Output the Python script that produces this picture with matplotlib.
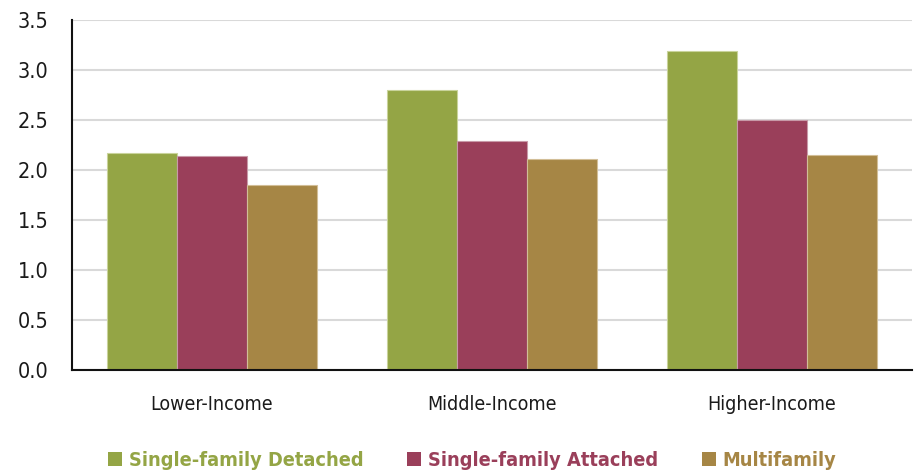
import matplotlib
matplotlib.use("Agg")
import matplotlib.pyplot as plt
import numpy as np
from matplotlib.patches import Patch

plt.rcParams["font.family"] = ["Liberation Sans Narrow", "DejaVu Sans"]
plt.rcParams["font.stretch"] = "condensed"

categories = ["Lower-Income", "Middle-Income", "Higher-Income"]
series_names = ["Single-family Detached", "Single-family Attached", "Multifamily"]
detached = [2.17, 2.80, 3.19]
attached = [2.14, 2.29, 2.50]
multifamily = [1.85, 2.11, 2.15]
colors = ["#94A545", "#9A3F5A", "#A68645"]
edge_colors = ["#C9D39B", "#C89AA8", "#D2BE97"]

yticks = [0.0, 0.5, 1.0, 1.5, 2.0, 2.5, 3.0, 3.5]

fig = plt.figure(figsize=(9.15, 4.75), dpi=100)
ax = fig.add_axes([72 / 915, 105 / 475, 840 / 915, 350 / 475])

x = np.arange(len(categories))
width = 0.25
for i, (vals, col, ec) in enumerate(zip([detached, attached, multifamily], colors, edge_colors)):
    ax.bar(x + (i - 1) * width, vals, width, color=col, edgecolor=ec, linewidth=0.8, zorder=3)

ax.set_xlim(-0.5, 2.5)
ax.set_ylim(0, 3.5)
ax.set_yticks(yticks)
ax.set_yticklabels([f"{v:.1f}" for v in yticks])
ax.set_xticks(x)
ax.set_xticklabels(categories)
ax.tick_params(axis="both", length=0, colors="#1a1a1a")
ax.tick_params(axis="x", pad=18, labelsize=14)
ax.tick_params(axis="y", pad=17, labelsize=15.5)
ax.yaxis.grid(True, color="#d9d9d9", linewidth=1.5, zorder=0)
ax.set_axisbelow(True)

for side in ["top", "right"]:
    ax.spines[side].set_visible(False)
for side in ["left", "bottom"]:
    ax.spines[side].set_linewidth(1.5)
    ax.spines[side].set_color("#111111")
    ax.spines[side].set_zorder(4)

handles = [Patch(facecolor=c, edgecolor="none") for c in colors]
leg = fig.legend(handles, series_names, loc="center", bbox_to_anchor=(0.516, 0.031),
                 ncol=3, frameon=False, handlelength=0.7, handleheight=0.7,
                 handletextpad=0.35, columnspacing=2.2,
                 prop={"size": 14.3, "weight": "bold"})
for text, c in zip(leg.get_texts(), colors):
    text.set_color(c)

fig.savefig("out.png", dpi=100)
